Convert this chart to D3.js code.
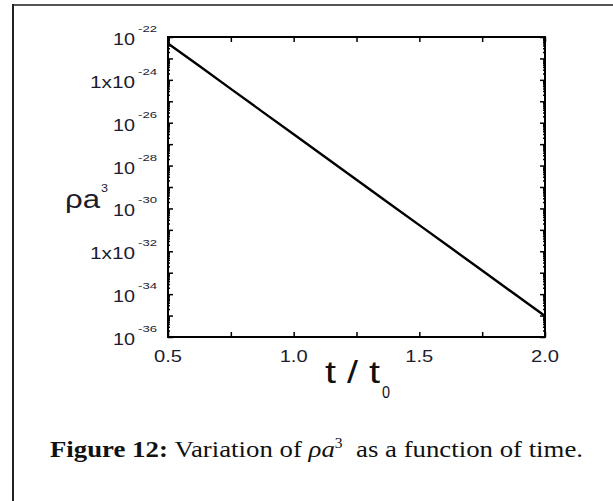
<!DOCTYPE html>
<html>
<head>
<meta charset="utf-8">
<script src="https://cdn.jsdelivr.net/npm/d3@7"></script>
<style>
  body { margin: 0; background: #fff; }
  svg { display: block; }
</style>
</head>
<body>
<div id="chart"></div>
<script>
// t / t0 and rho*a^3
const tValues = [0.5, 0.625, 0.75, 0.875, 1.0, 1.125, 1.25, 1.375, 1.5, 1.625, 1.75, 1.875, 2.0]
const rhoA3 = [5.0e-23, 4.4e-24, 3.8e-25, 3.3e-26, 2.9e-27, 2.5e-28, 2.2e-29, 1.9e-30, 1.66e-31, 1.45e-32, 1.26e-33, 1.1e-34, 9.5e-36]

const xTicks = [0.5, 1.0, 1.5, 2.0]
const xTickLabels = ["0.5", "1.0", "1.5", "2.0"]
const xMinorTicks = [0.75, 1.25, 1.75]

const yTickValues = [1e-22, 1e-24, 1e-26, 1e-28, 1e-30, 1e-32, 1e-34, 1e-36]
const yTickBase = ["10", "1x10", "10", "10", "10", "1x10", "10", "10"]
const yTickExp = ["-22", "-24", "-26", "-28", "-30", "-32", "-34", "-36"]

const width = 613
const height = 501
const plot = { left: 168, right: 545, top: 37, bottom: 337 }

const svg = d3.select("#chart")
  .append("svg")
  .attr("width", width)
  .attr("height", height)

// page frame (top + left edges only)
svg.append("line")
  .attr("x1", 13).attr("x2", width).attr("y1", 5).attr("y2", 5)
  .style("stroke", "#555").style("stroke-width", 2)
svg.append("line")
  .attr("x1", 13).attr("x2", 13).attr("y1", 4).attr("y2", height)
  .style("stroke", "#222").style("stroke-width", 2)

const x = d3.scaleLinear().domain([0.5, 2.0]).range([plot.left, plot.right])
const y = d3.scaleLog().domain([1e-36, 1e-22]).range([plot.bottom, plot.top])

const decades = d3.range(-36, -21).map(e => Math.pow(10, e))
const minors = []
decades.slice(0, -1).forEach(d => {
  for (let k = 2; k <= 9; k++) minors.push(d * k)
})

const tickStyle = g => {
  g.select(".domain").remove()
  g.selectAll(".tick line").style("stroke", "#000").style("stroke-width", 1.5)
  g.selectAll(".tick text").remove()
}

// x ticks, bottom + top, pointing inward
svg.append("g")
  .attr("transform", `translate(0,${plot.bottom})`)
  .call(d3.axisBottom(x).tickValues(xTicks.concat(xMinorTicks)).tickSize(-5))
  .call(tickStyle)
svg.append("g")
  .attr("transform", `translate(0,${plot.top})`)
  .call(d3.axisTop(x).tickValues(xTicks.concat(xMinorTicks)).tickSize(-5))
  .call(tickStyle)

// y ticks, left + right
svg.append("g")
  .attr("transform", `translate(${plot.left},0)`)
  .call(d3.axisLeft(y).tickValues(decades).tickSize(-5))
  .call(tickStyle)
svg.append("g")
  .attr("transform", `translate(${plot.left},0)`)
  .call(d3.axisLeft(y).tickValues(minors).tickSize(-2))
  .call(tickStyle)
svg.append("g")
  .attr("transform", `translate(${plot.right},0)`)
  .call(d3.axisRight(y).tickValues(decades).tickSize(-5))
  .call(tickStyle)
svg.append("g")
  .attr("transform", `translate(${plot.right},0)`)
  .call(d3.axisRight(y).tickValues(minors).tickSize(-2))
  .call(tickStyle)

// frame
svg.append("rect")
  .attr("x", plot.left)
  .attr("y", plot.top)
  .attr("width", plot.right - plot.left)
  .attr("height", plot.bottom - plot.top)
  .style("fill", "none")
  .style("stroke", "#000")
  .style("stroke-width", 2)

// curve
svg.append("path")
  .datum(tValues.map((t, i) => [t, rhoA3[i]]))
  .attr("d", d3.line().x(d => x(d[0])).y(d => y(d[1])))
  .style("fill", "none")
  .style("stroke", "#000")
  .style("stroke-width", 2.4)

const sans = "'Liberation Sans', Arial, sans-serif"
const serif = "'Liberation Serif', 'Times New Roman', serif"
const ink = "#1c1c2c"

// y tick labels
yTickValues.forEach((v, i) => {
  const ty = y(v)
  const base = yTickBase[i]
  svg.append("text")
    .attr("x", 135 - (base.length > 2 ? 45 : 22))
    .attr("y", ty + 8)
    .attr("textLength", base.length > 2 ? 45 : 22)
    .attr("lengthAdjust", "spacingAndGlyphs")
    .style("font-family", sans)
    .style("font-size", "17px")
    .style("fill", ink)
    .text(base)
  svg.append("text")
    .attr("x", 138)
    .attr("y", ty - 5)
    .attr("textLength", 19)
    .attr("lengthAdjust", "spacingAndGlyphs")
    .style("font-family", sans)
    .style("font-size", "9.5px")
    .style("fill", ink)
    .text(yTickExp[i])
})

// x tick labels
xTicks.forEach((v, i) => {
  svg.append("text")
    .attr("x", x(v) - 14)
    .attr("y", 362)
    .attr("textLength", 28)
    .attr("lengthAdjust", "spacingAndGlyphs")
    .style("font-family", sans)
    .style("font-size", "17px")
    .style("fill", ink)
    .text(xTickLabels[i])
})

// x axis title
svg.append("text")
  .attr("x", 325)
  .attr("y", 383)
  .attr("textLength", 55)
  .attr("lengthAdjust", "spacingAndGlyphs")
  .style("font-family", sans)
  .style("font-size", "31px")
  .style("fill", "#111")
  .text("t / t")
svg.append("text")
  .attr("x", 382)
  .attr("y", 398)
  .attr("textLength", 8)
  .attr("lengthAdjust", "spacingAndGlyphs")
  .style("font-family", sans)
  .style("font-size", "16px")
  .style("fill", "#111")
  .text("0")

// y axis title
svg.append("text")
  .attr("x", 65)
  .attr("y", 208)
  .attr("textLength", 35)
  .attr("lengthAdjust", "spacingAndGlyphs")
  .style("font-family", sans)
  .style("font-size", "25px")
  .style("fill", ink)
  .text("ρa")
svg.append("text")
  .attr("x", 101)
  .attr("y", 192)
  .attr("textLength", 7)
  .attr("lengthAdjust", "spacingAndGlyphs")
  .style("font-family", sans)
  .style("font-size", "11px")
  .style("fill", ink)
  .text("3")

// caption
const caption = svg.append("text")
  .attr("x", 50)
  .attr("y", 457)
  .attr("textLength", 533)
  .attr("lengthAdjust", "spacingAndGlyphs")
  .style("font-family", serif)
  .style("font-size", "24px")
  .style("fill", "#111")
  .style("white-space", "pre")
caption.append("tspan").style("font-family", serif).style("font-weight", "bold").text("Figure 12: ")
caption.append("tspan").style("font-family", serif).text("Variation of ")
caption.append("tspan").style("font-family", serif).style("font-style", "italic").text("ρa")
caption.append("tspan").style("font-family", serif).attr("dy", -9).style("font-size", "14px").text("3")
caption.append("tspan").style("font-family", serif).attr("dy", 9).text("  as a function of time.")
</script>
</body>
</html>
